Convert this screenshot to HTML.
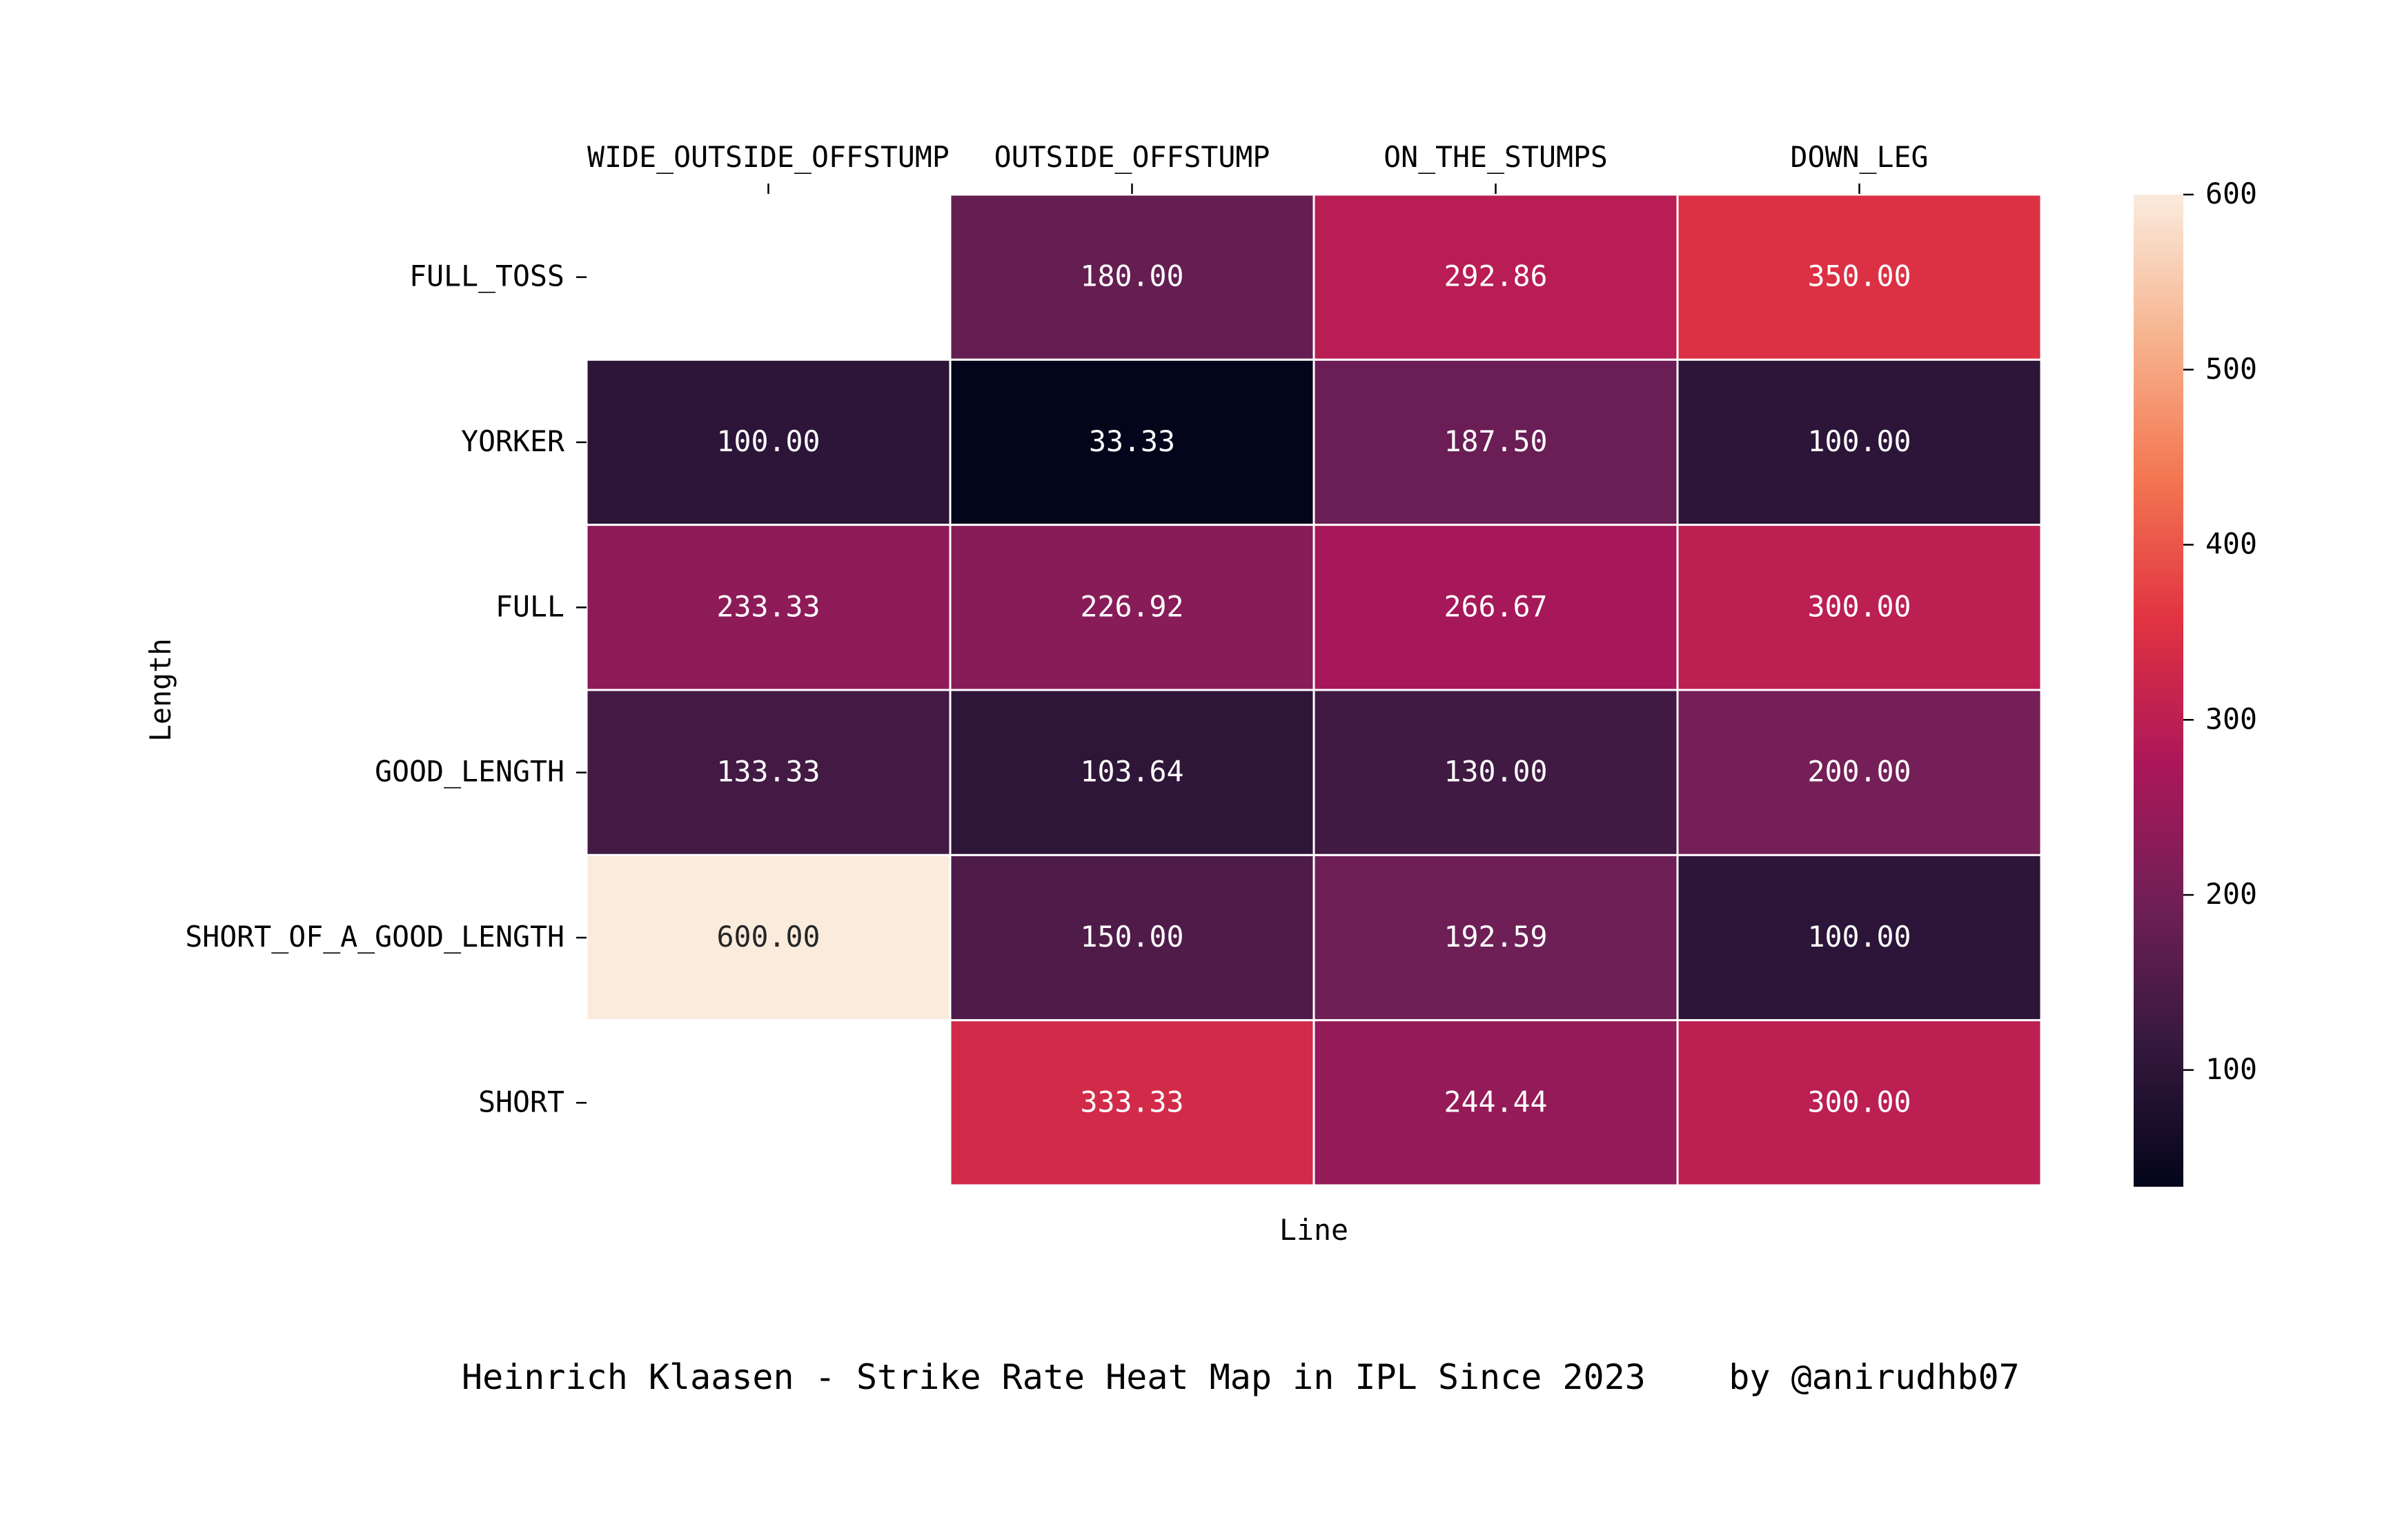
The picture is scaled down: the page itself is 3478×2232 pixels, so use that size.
<!DOCTYPE html>
<html><head><meta charset="utf-8">
<style>
html,body{margin:0;padding:0;background:#fff;}
svg{display:block;font-family:"DejaVu Sans Mono","Liberation Mono",monospace;}
</style></head>
<body>
<svg id="chart" width="3478" height="2232" viewBox="0 0 3478 2232" xmlns="http://www.w3.org/2000/svg">
<defs>
<linearGradient id="rocket" x1="0" y1="1" x2="0" y2="0">
<stop offset="0" stop-color="#03051a"/>
<stop offset="0.1429" stop-color="#35193e"/>
<stop offset="0.2857" stop-color="#701f57"/>
<stop offset="0.4286" stop-color="#ad1759"/>
<stop offset="0.5714" stop-color="#e13342"/>
<stop offset="0.7143" stop-color="#f37651"/>
<stop offset="0.8571" stop-color="#f6b48f"/>
<stop offset="1" stop-color="#faebdd"/>
</linearGradient>
</defs>
<g id="cells"></g>
<g id="xlabels"></g>
<g id="ylabels"></g>
<rect x="3092" y="282" width="72" height="1438" fill="url(#rocket)"/>
<g id="cbticks"></g>
<text x="1904" y="1797" font-size="41.5" text-anchor="middle">Line</text>
<text transform="translate(247,1000) rotate(-90)" font-size="41.5" text-anchor="middle">Length</text>
<text x="669" y="2013" font-size="50" xml:space="preserve">Heinrich Klaasen - Strike Rate Heat Map in IPL Since 2023    by @anirudhb07</text>
</svg>
<script>
const columns = ["WIDE_OUTSIDE_OFFSTUMP","OUTSIDE_OFFSTUMP","ON_THE_STUMPS","DOWN_LEG"];
const rows = ["FULL_TOSS","YORKER","FULL","GOOD_LENGTH","SHORT_OF_A_GOOD_LENGTH","SHORT"];
const rowFullToss = [null,180.00,292.86,350.00];
const rowYorker = [100.00,33.33,187.50,100.00];
const rowFull = [233.33,226.92,266.67,300.00];
const rowGoodLength = [133.33,103.64,130.00,200.00];
const rowShortOfGood = [600.00,150.00,192.59,100.00];
const rowShort = [null,333.33,244.44,300.00];
const colorbarTicks = [100,200,300,400,500,600];
const vmin = 33.33, vmax = 600;

const values = [rowFullToss,rowYorker,rowFull,rowGoodLength,rowShortOfGood,rowShort];
const NS = "http://www.w3.org/2000/svg";
const L = 850, R = 2958, T = 282, B = 1718;
const cw = (R - L) / columns.length, rh = (B - T) / rows.length;
const xPos = i => L + i * cw;
const yPos = j => T + j * rh;
const cbTop = 282, cbBot = 1720;
const cbY = v => cbBot - (v - vmin) / (vmax - vmin) * (cbBot - cbTop);

const stops = [[3,5,26],[53,25,62],[112,31,87],[173,23,89],[225,51,66],[243,118,81],[246,180,143],[250,235,221]];
function color(v){
  let t = Math.max(0, Math.min(1, (v - vmin) / (vmax - vmin))) * (stops.length - 1);
  let i = Math.min(stops.length - 2, Math.floor(t)), f = t - i;
  const c = stops[i].map((a, k) => Math.round(a + (stops[i+1][k] - a) * f));
  return c;
}
function mk(tag, attrs, parent){
  const e = document.createElementNS(NS, tag);
  for (const k in attrs) e.setAttribute(k, attrs[k]);
  parent.appendChild(e); return e;
}
const gCells = document.getElementById("cells");
values.forEach((row, j) => {
  row.forEach((v, i) => {
    if (v === null) return;
    const c = color(v);
    const r = mk("rect", {x: xPos(i), y: yPos(j), width: cw, height: rh, fill: `rgb(${c})`, stroke: "#fff", "stroke-width": 3}, gCells);
    
    
    const lum = (0.2126*c[0] + 0.7152*c[1] + 0.0722*c[2]) / 255;
    const t = mk("text", {x: xPos(i) + cw/2, y: yPos(j) + rh/2 + 13, "font-size": 41.5, "text-anchor": "middle", fill: lum > 0.408 ? "#262626" : "#fff"}, gCells);
    
    
    t.textContent = v.toFixed(2);
  });
});
const gx = document.getElementById("xlabels");
columns.forEach((c, i) => {
  const cx = xPos(i) + cw/2;
  const t = mk("text", {x: cx, y: 242, "font-size": 41.5, "text-anchor": "middle"}, gx);
  
  
  t.textContent = c;
  const tk = mk("line", {x1: cx, x2: cx, y1: 266, y2: 281, stroke: "#000", "stroke-width": 2.5}, gx);
  
  
});
const gy = document.getElementById("ylabels");
rows.forEach((r, j) => {
  const cy = yPos(j) + rh/2;
  const t = mk("text", {x: 818, y: cy + 13, "font-size": 41.5, "text-anchor": "end"}, gy);
  
  
  t.textContent = r;
  const tk = mk("line", {x1: 835, x2: 850, y1: cy, y2: cy, stroke: "#000", "stroke-width": 2.5}, gy);
  
  
});
const gcb = document.getElementById("cbticks");
colorbarTicks.forEach(v => {
  const y = cbY(v);
  const tk = mk("line", {x1: 3164, x2: 3179, y1: y, y2: y, stroke: "#000", "stroke-width": 2.5}, gcb);
  
  
  const t = mk("text", {x: 3196, y: y + 13, "font-size": 41.5}, gcb);
  
  
  t.textContent = v;
});
</script>
</body></html>
